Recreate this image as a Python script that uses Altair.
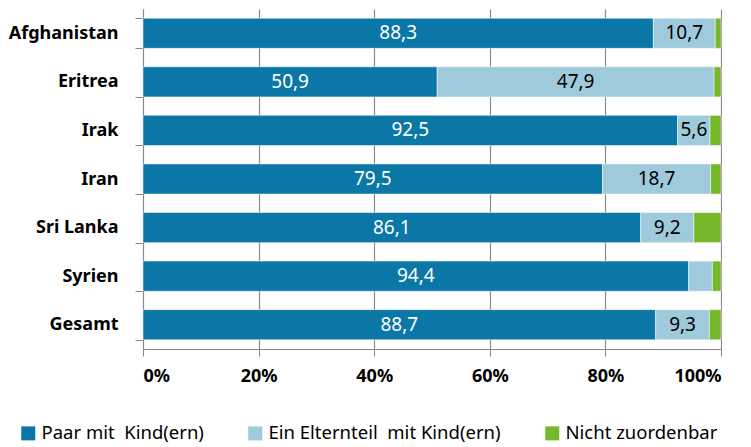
import altair as alt
import pandas as pd

countries = ["Afghanistan", "Eritrea", "Irak", "Iran", "Sri Lanka", "Syrien", "Gesamt"]
paar = [88.3, 50.9, 92.5, 79.5, 86.1, 94.4, 88.7]
eltern = [10.7, 47.9, 5.6, 18.7, 9.2, 4.1, 9.3]
nicht = [1.0, 1.2, 1.9, 1.8, 4.7, 1.5, 2.0]
categories = ["Paar mit\u00a0 Kind(ern)", "Ein Elternteil\u00a0 mit Kind(ern)", "Nicht zuordenbar"]
colors = ["#0a77a6", "#9ecadc", "#76b82a"]
x_ticks = [0, 20, 40, 60, 80, 100]

rows = []
for i, c in enumerate(countries):
    for k, vals in enumerate([paar, eltern, nicht]):
        rows.append({"land": c, "kat": categories[k], "ord": k, "wert": vals[i]})
df = pd.DataFrame(rows)

FONT = "Noto Sans"

base = alt.Chart(df).transform_stack(
    stack="wert", groupby=["land"], as_=["start", "end"], sort=[alt.SortField("ord")]
).transform_calculate(
    mid="(datum.start + datum.end) / 2",
    label="replace(format(datum.wert, '.1f'), '.', ',')",
)

y_enc = alt.Y(
    "land:N",
    sort=countries,
    title=None,
    scale=alt.Scale(paddingInner=0.38, paddingOuter=0.19),
    axis=alt.Axis(
        labelFont=FONT, labelFontWeight="bold", labelFontSize=18, labelColor="black",
        tickBand="extent", tickSize=8, tickColor="#888888", domainColor="#888888",
        labelPadding=17, grid=False,
    ),
)

bars = base.mark_bar(stroke="white", strokeWidth=0.5).encode(
    x=alt.X(
        "start:Q",
        scale=alt.Scale(domain=[0, 100], nice=False),
        title=None,
        axis=alt.Axis(
            values=x_ticks, labelExpr="datum.value + '%'", labelFont=FONT,
            labelFontWeight="bold", labelFontSize=18, labelColor="black",
            tickSize=7, tickColor="#888888", domainColor="#888888",
            gridColor="#8a8a8a", gridWidth=1.2, labelPadding=11,
        ),
    ),
    x2="end:Q",
    y=y_enc,
    color=alt.Color(
        "kat:N",
        scale=alt.Scale(domain=categories, range=colors),
        title=None,
        legend=alt.Legend(
            orient="none", legendX=-124, legendY=415, direction="horizontal",
            columns=3, columnPadding=42, symbolType="square", symbolSize=196,
            symbolStrokeWidth=0, symbolOpacity=1, labelFont=FONT, labelFontSize=18.5,
            labelColor="black", labelOffset=4, labelLimit=400,
        ),
    ),
    order=alt.Order("ord:Q"),
)

texts = base.transform_filter("datum.wert >= 5").mark_text(
    font=FONT, fontSize=19, baseline="middle", align="center"
).encode(
    x=alt.X("mid:Q"),
    y=alt.Y("land:N", sort=countries),
    text="label:N",
    color=alt.condition("datum.ord == 0", alt.value("white"), alt.value("black")),
)

chart = alt.layer(bars, texts).properties(
    width=578, height=340, padding={"left": 0, "top": -8, "right": 0, "bottom": 0}
).configure_view(stroke=None)

chart.save("out.html", embed_options={"renderer": "svg", "actions": False})
